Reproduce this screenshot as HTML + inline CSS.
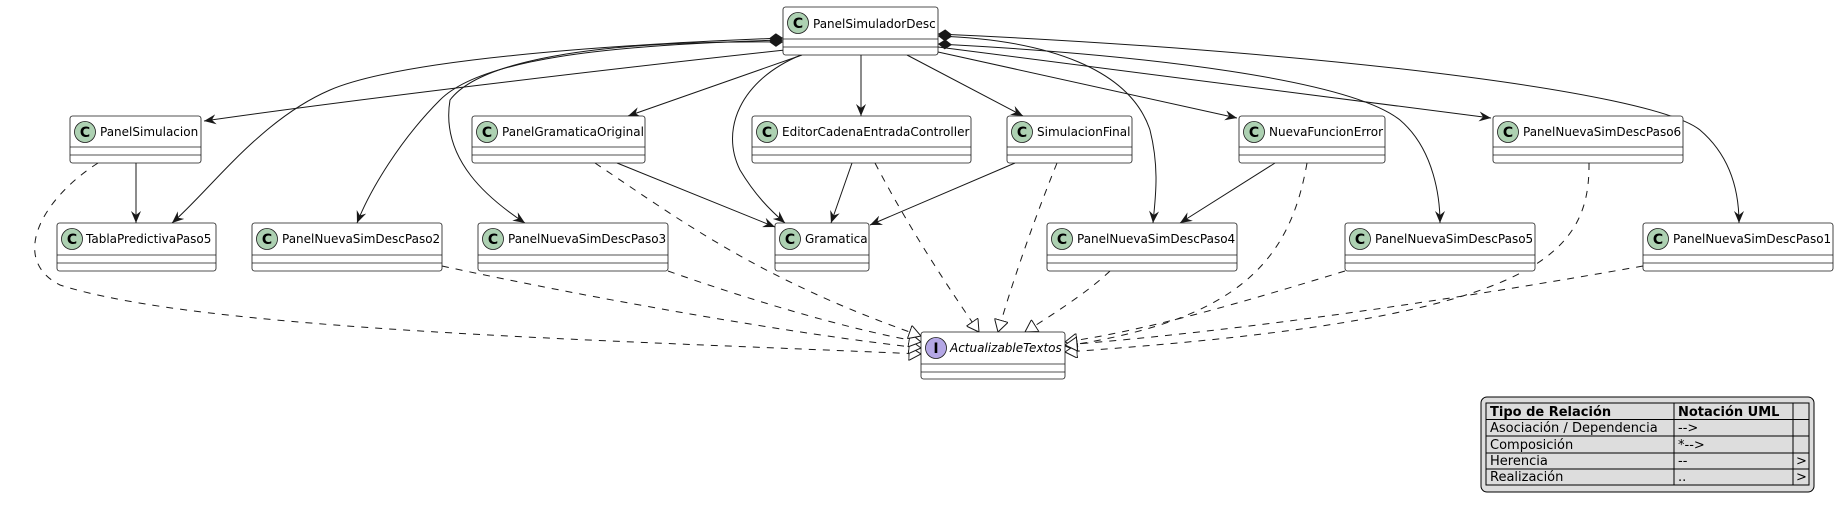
<!DOCTYPE html>
<html><head><meta charset="utf-8"><style>
html,body{margin:0;padding:0;background:#fff;}
svg{display:block;font-family:"DejaVu Sans","Liberation Sans",sans-serif;}
.b{fill:#fff;stroke:#181818;stroke-width:0.8}
.t{font-size:12px;fill:#000}
.e{fill:none;stroke:#181818;stroke-width:1}
.d{fill:none;stroke:#181818;stroke-width:1;stroke-dasharray:7,7}
</style></head><body>
<svg width="1839" height="511" viewBox="0 0 1839 511" xmlns="http://www.w3.org/2000/svg">
<defs>
<marker id="a" viewBox="0 0 12 10" refX="12" refY="5" markerWidth="12" markerHeight="10" orient="auto" markerUnits="userSpaceOnUse"><path d="M0,0 L12,5 L0,10 L4,5 Z" fill="#181818"/></marker>
<marker id="tri" viewBox="0 0 12 14" refX="12" refY="7" markerWidth="13" markerHeight="14" orient="auto" markerUnits="userSpaceOnUse"><path d="M0,0 L12,7 L0,14 Z" fill="#fff" stroke="#181818" stroke-width="1"/></marker>
<marker id="dia" viewBox="0 0 14 10" refX="0" refY="5" markerWidth="14" markerHeight="10" orient="auto" markerUnits="userSpaceOnUse"><path d="M0,5 L7,0 L14,5 L7,10 Z" fill="#181818"/></marker>
</defs>

<path class="e" d="M785,50 C600,70 350,100 204,121" marker-end="url(#a)"/>
<path class="e" d="M802,55 L628,116" marker-end="url(#a)"/>
<path class="e" d="M861,55 L861,116" marker-end="url(#a)"/>
<path class="e" d="M907,55 L1023,116" marker-end="url(#a)"/>
<path class="e" d="M938,52 L1237,118" marker-end="url(#a)"/>
<path class="e" d="M938,47 L1491,118" marker-end="url(#a)"/>
<path class="e" d="M801,55 C740,80 720,130 740,170 C755,195 770,210 785,223" marker-end="url(#a)"/>
<path class="e" d="M136,163 L136,223" marker-end="url(#a)"/>
<path class="e" d="M617,163 L775,227" marker-end="url(#a)"/>
<path class="e" d="M852,163 L831,223" marker-end="url(#a)"/>
<path class="e" d="M1015,163 L870,225" marker-end="url(#a)"/>
<path class="e" d="M1275,163 L1180,223" marker-end="url(#a)"/>

<path class="e" d="M783,38 C600,45 400,60 330,90 C260,120 210,190 172,223" marker-start="url(#dia)" marker-end="url(#a)"/>
<path class="e" d="M783,40 C600,45 480,60 440,100 C400,140 370,190 357,223" marker-start="url(#dia)" marker-end="url(#a)"/>
<path class="e" d="M783,42 C600,40 480,60 450,100 C440,160 490,200 525,223" marker-start="url(#dia)" marker-end="url(#a)"/>
<path class="e" d="M938,36 C1050,40 1130,70 1150,130 C1160,170 1155,200 1153,223" marker-start="url(#dia)" marker-end="url(#a)"/>
<path class="e" d="M938,44 C1150,55 1350,80 1400,120 C1435,150 1440,200 1440,223" marker-start="url(#dia)" marker-end="url(#a)"/>
<path class="e" d="M938,34 C1300,50 1650,90 1700,130 C1735,160 1739,200 1739,223" marker-start="url(#dia)" marker-end="url(#a)"/>

<path class="d" d="M98,163 C40,200 10,260 60,285 C200,330 600,340 921,354" marker-end="url(#tri)"/>
<path class="d" d="M442,266 C600,300 800,335 921,348" marker-end="url(#tri)"/>
<path class="d" d="M668,271 C750,300 850,330 921,342" marker-end="url(#tri)"/>
<path class="d" d="M595,163 C680,220 760,280 921,336" marker-end="url(#tri)"/>
<path class="d" d="M875,163 C910,230 950,290 979,332" marker-end="url(#tri)"/>
<path class="d" d="M1057,163 C1030,230 1010,290 998,332" marker-end="url(#tri)"/>
<path class="d" d="M1110,271 C1090,290 1060,310 1025,332" marker-end="url(#tri)"/>
<path class="d" d="M1307,163 C1290,260 1240,320 1065,346" marker-end="url(#tri)"/>
<path class="d" d="M1345,271 C1250,300 1150,330 1065,342" marker-end="url(#tri)"/>
<path class="d" d="M1589,163 C1590,260 1530,320 1065,352" marker-end="url(#tri)"/>
<path class="d" d="M1643,266 C1450,300 1250,330 1065,345" marker-end="url(#tri)"/>

<g>
<rect class="b" x="783" y="7" width="155" height="48" rx="2.5"/><line class="b" x1="783" y1="39" x2="938" y2="39"/><line class="b" x1="783" y1="47" x2="938" y2="47"/>
<circle cx="798" cy="23" r="10.5" fill="#ADD1B2" stroke="#181818" stroke-width="0.8"/><text x="798" y="28" text-anchor="middle" font-size="14" font-weight="bold">C</text>
<text class="t" x="813" y="28">PanelSimuladorDesc</text>
</g>
<g>
<rect class="b" x="70" y="116" width="131" height="47" rx="2.5"/><line class="b" x1="70" y1="147" x2="201" y2="147"/><line class="b" x1="70" y1="155" x2="201" y2="155"/>
<circle cx="85" cy="132" r="10.5" fill="#ADD1B2" stroke="#181818" stroke-width="0.8"/><text x="85" y="137" text-anchor="middle" font-size="14" font-weight="bold">C</text>
<text class="t" x="100" y="136">PanelSimulacion</text>

<rect class="b" x="472" y="116" width="173" height="47" rx="2.5"/><line class="b" x1="472" y1="147" x2="645" y2="147"/><line class="b" x1="472" y1="155" x2="645" y2="155"/>
<circle cx="487" cy="132" r="10.5" fill="#ADD1B2" stroke="#181818" stroke-width="0.8"/><text x="487" y="137" text-anchor="middle" font-size="14" font-weight="bold">C</text>
<text class="t" x="502" y="136">PanelGramaticaOriginal</text>

<rect class="b" x="752" y="116" width="219" height="47" rx="2.5"/><line class="b" x1="752" y1="147" x2="971" y2="147"/><line class="b" x1="752" y1="155" x2="971" y2="155"/>
<circle cx="767" cy="132" r="10.5" fill="#ADD1B2" stroke="#181818" stroke-width="0.8"/><text x="767" y="137" text-anchor="middle" font-size="14" font-weight="bold">C</text>
<text class="t" x="782" y="136">EditorCadenaEntradaController</text>

<rect class="b" x="1007" y="116" width="125" height="47" rx="2.5"/><line class="b" x1="1007" y1="147" x2="1132" y2="147"/><line class="b" x1="1007" y1="155" x2="1132" y2="155"/>
<circle cx="1022" cy="132" r="10.5" fill="#ADD1B2" stroke="#181818" stroke-width="0.8"/><text x="1022" y="137" text-anchor="middle" font-size="14" font-weight="bold">C</text>
<text class="t" x="1037" y="136">SimulacionFinal</text>

<rect class="b" x="1239" y="116" width="146" height="47" rx="2.5"/><line class="b" x1="1239" y1="147" x2="1385" y2="147"/><line class="b" x1="1239" y1="155" x2="1385" y2="155"/>
<circle cx="1254" cy="132" r="10.5" fill="#ADD1B2" stroke="#181818" stroke-width="0.8"/><text x="1254" y="137" text-anchor="middle" font-size="14" font-weight="bold">C</text>
<text class="t" x="1269" y="136">NuevaFuncionError</text>

<rect class="b" x="1493" y="116" width="190" height="47" rx="2.5"/><line class="b" x1="1493" y1="147" x2="1683" y2="147"/><line class="b" x1="1493" y1="155" x2="1683" y2="155"/>
<circle cx="1508" cy="132" r="10.5" fill="#ADD1B2" stroke="#181818" stroke-width="0.8"/><text x="1508" y="137" text-anchor="middle" font-size="14" font-weight="bold">C</text>
<text class="t" x="1523" y="136">PanelNuevaSimDescPaso6</text>
</g>
<g>
<rect class="b" x="57" y="223" width="159" height="48" rx="2.5"/><line class="b" x1="57" y1="255" x2="216" y2="255"/><line class="b" x1="57" y1="263" x2="216" y2="263"/>
<circle cx="72" cy="239" r="10.5" fill="#ADD1B2" stroke="#181818" stroke-width="0.8"/><text x="72" y="244" text-anchor="middle" font-size="14" font-weight="bold">C</text>
<text class="t" x="86" y="243">TablaPredictivaPaso5</text>

<rect class="b" x="252" y="223" width="190" height="48" rx="2.5"/><line class="b" x1="252" y1="255" x2="442" y2="255"/><line class="b" x1="252" y1="263" x2="442" y2="263"/>
<circle cx="267" cy="239" r="10.5" fill="#ADD1B2" stroke="#181818" stroke-width="0.8"/><text x="267" y="244" text-anchor="middle" font-size="14" font-weight="bold">C</text>
<text class="t" x="282" y="243">PanelNuevaSimDescPaso2</text>

<rect class="b" x="478" y="223" width="190" height="48" rx="2.5"/><line class="b" x1="478" y1="255" x2="668" y2="255"/><line class="b" x1="478" y1="263" x2="668" y2="263"/>
<circle cx="493" cy="239" r="10.5" fill="#ADD1B2" stroke="#181818" stroke-width="0.8"/><text x="493" y="244" text-anchor="middle" font-size="14" font-weight="bold">C</text>
<text class="t" x="508" y="243">PanelNuevaSimDescPaso3</text>

<rect class="b" x="775" y="223" width="94" height="48" rx="2.5"/><line class="b" x1="775" y1="255" x2="869" y2="255"/><line class="b" x1="775" y1="263" x2="869" y2="263"/>
<circle cx="790" cy="239" r="10.5" fill="#ADD1B2" stroke="#181818" stroke-width="0.8"/><text x="790" y="244" text-anchor="middle" font-size="14" font-weight="bold">C</text>
<text class="t" x="805" y="243">Gramatica</text>

<rect class="b" x="1047" y="223" width="190" height="48" rx="2.5"/><line class="b" x1="1047" y1="255" x2="1237" y2="255"/><line class="b" x1="1047" y1="263" x2="1237" y2="263"/>
<circle cx="1062" cy="239" r="10.5" fill="#ADD1B2" stroke="#181818" stroke-width="0.8"/><text x="1062" y="244" text-anchor="middle" font-size="14" font-weight="bold">C</text>
<text class="t" x="1077" y="243">PanelNuevaSimDescPaso4</text>

<rect class="b" x="1345" y="223" width="190" height="48" rx="2.5"/><line class="b" x1="1345" y1="255" x2="1535" y2="255"/><line class="b" x1="1345" y1="263" x2="1535" y2="263"/>
<circle cx="1360" cy="239" r="10.5" fill="#ADD1B2" stroke="#181818" stroke-width="0.8"/><text x="1360" y="244" text-anchor="middle" font-size="14" font-weight="bold">C</text>
<text class="t" x="1375" y="243">PanelNuevaSimDescPaso5</text>

<rect class="b" x="1643" y="223" width="190" height="48" rx="2.5"/><line class="b" x1="1643" y1="255" x2="1833" y2="255"/><line class="b" x1="1643" y1="263" x2="1833" y2="263"/>
<circle cx="1658" cy="239" r="10.5" fill="#ADD1B2" stroke="#181818" stroke-width="0.8"/><text x="1658" y="244" text-anchor="middle" font-size="14" font-weight="bold">C</text>
<text class="t" x="1673" y="243">PanelNuevaSimDescPaso1</text>
</g>
<g>
<rect class="b" x="921" y="332" width="144" height="47" rx="2.5"/><line class="b" x1="921" y1="364" x2="1065" y2="364"/><line class="b" x1="921" y1="372" x2="1065" y2="372"/>
<circle cx="936" cy="348" r="10.5" fill="#B4A7E5" stroke="#181818" stroke-width="0.8"/><text x="936" y="353" text-anchor="middle" font-size="14" font-weight="bold">I</text>
<text class="t" x="950" y="352" font-style="italic">ActualizableTextos</text>
</g>

<g font-size="13">
<rect x="1481" y="397" width="333" height="95" rx="6" fill="#DDDDDD" stroke="#000" stroke-width="1"/>
<rect x="1486" y="403" width="323" height="82" fill="#DDDDDD" stroke="#000" stroke-width="1"/>
<line x1="1486" y1="419.5" x2="1809" y2="419.5" stroke="#000"/>
<line x1="1486" y1="436" x2="1809" y2="436" stroke="#000"/>
<line x1="1486" y1="453" x2="1809" y2="453" stroke="#000"/>
<line x1="1486" y1="469" x2="1809" y2="469" stroke="#000"/>
<line x1="1674" y1="403" x2="1674" y2="485" stroke="#000"/>
<line x1="1793" y1="403" x2="1793" y2="485" stroke="#000"/>
<text x="1490" y="416" font-weight="bold">Tipo de Relación</text>
<text x="1678" y="416" font-weight="bold">Notación UML</text>
<text x="1490" y="432">Asociación / Dependencia</text>
<text x="1678" y="432">--&gt;</text>
<text x="1490" y="449">Composición</text>
<text x="1678" y="449">*--&gt;</text>
<text x="1490" y="465">Herencia</text>
<text x="1678" y="465">--</text>
<text x="1796" y="465">&gt;</text>
<text x="1490" y="481">Realización</text>
<text x="1678" y="481">..</text>
<text x="1796" y="481">&gt;</text>
</g>
</svg>
</body></html>
